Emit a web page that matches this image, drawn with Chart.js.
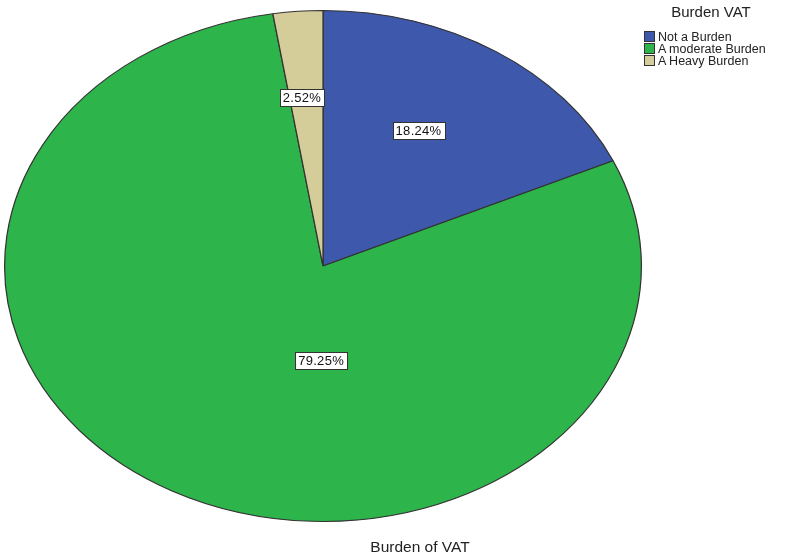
<!DOCTYPE html>
<html>
<head>
<meta charset="utf-8">
<script src="https://cdn.jsdelivr.net/npm/chart.js@4"></script>
<style>
  body { margin: 0; background: #fff; font-family: "Liberation Sans", Arial, sans-serif; }
  #wrap { position: relative; width: 792px; height: 558px; }
  #legend { position: absolute; left: 644px; top: 3px; color: #222; }
  #legend .title { font-size: 15px; line-height: 17px; text-align: center; width: 134px; margin-bottom: 11px; }
  #legend .item { font-size: 12.5px; height: 12px; line-height: 12px; white-space: nowrap; }
  #legend .sw { display: inline-block; width: 9px; height: 9px; border: 1px solid #333; vertical-align: -1px; margin-right: 3px; }
  #xtitle { position: absolute; left: 0; width: 840px; top: 538px; line-height: 18px; text-align: center; font-size: 15.5px; color: #222; }
</style>
</head>
<body>
<div id="wrap">
  <canvas id="pieChart" width="792" height="558"></canvas>
  <div id="legend"></div>
  <div id="xtitle">Burden of VAT</div>
</div>
<script>
/* ── Data ── */
var categories = ['Not a Burden', 'A moderate Burden', 'A Heavy Burden'];
var percents = [18.24, 79.25, 2.52];
var sliceColors = ['#3e58ac', '#2db44a', '#d5cd99'];
var legendTitle = 'Burden VAT';

/* label offsets as fraction of the ellipse radii (SPSS-like placement) */
var labelOffsets = [[0.30, -0.53], [-0.006, 0.37], [-0.066, -0.66]];
var stretchX = 319 / 256;

/* ── Legend (HTML) ── */
var legendEl = document.getElementById('legend');
var html = '<div class="title">' + legendTitle + '</div>';
categories.forEach(function(c, i) {
  html += '<div class="item"><span class="sw" style="background:' + sliceColors[i] + '"></span>' + c + '</div>';
});
legendEl.innerHTML = html;

/* ── Plugin: stretch pie into an ellipse + draw boxed labels ── */
var ellipsePlugin = {
  id: 'ellipse',
  beforeDatasetsDraw: function(chart) {
    var arc = chart.getDatasetMeta(0).data[0];
    var ctx = chart.ctx;
    ctx.save();
    ctx.translate(arc.x, arc.y);
    ctx.scale(stretchX, 1);
    ctx.translate(-arc.x, -arc.y);
  },
  afterDatasetsDraw: function(chart) {
    chart.ctx.restore();
  },
  afterDraw: function(chart) {
    var ctx = chart.ctx;
    var arcs = chart.getDatasetMeta(0).data;
    ctx.save();
    ctx.font = '13px "Liberation Sans", Arial, sans-serif';
    if ('letterSpacing' in ctx) ctx.letterSpacing = '0.3px';
    ctx.textAlign = 'center';
    ctx.textBaseline = 'middle';
    arcs.forEach(function(arc, i) {
      var r = arc.outerRadius;
      var x = arc.x + labelOffsets[i][0] * r * stretchX;
      var y = arc.y + labelOffsets[i][1] * r;
      var txt = percents[i].toFixed(2) + '%';
      var w = Math.round(ctx.measureText(txt).width + 6);
      var h = 17;
      var bx = Math.round(x - w / 2) + 0.5, by = Math.round(y - h / 2) + 0.5;
      ctx.fillStyle = '#fff';
      ctx.fillRect(bx, by, w, h);
      ctx.strokeStyle = '#333';
      ctx.lineWidth = 1;
      ctx.strokeRect(bx, by, w, h);
      ctx.fillStyle = '#111';
      ctx.fillText(txt, x, y + 1);
    });
    ctx.restore();
  }
};

new Chart(document.getElementById('pieChart'), {
  type: 'pie',
  data: {
    labels: categories,
    datasets: [{
      data: percents,
      backgroundColor: sliceColors,
      borderColor: '#333',
      borderWidth: 1
    }]
  },
  options: {
    responsive: false,
    animation: false,
    events: [],
    layout: { padding: { left: 67, right: 213, top: 10, bottom: 36 } },
    plugins: {
      legend: { display: false },
      tooltip: { enabled: false }
    }
  },
  plugins: [ellipsePlugin]
});
</script>
</body>
</html>
